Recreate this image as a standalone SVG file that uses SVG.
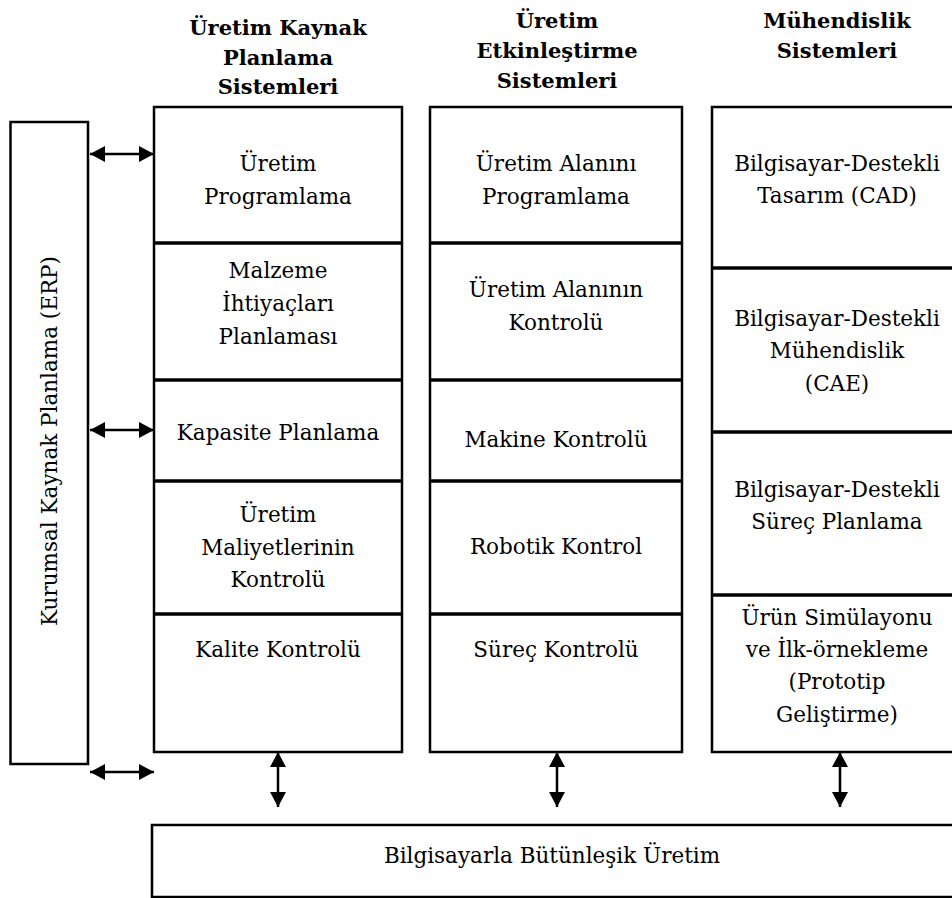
<svg xmlns="http://www.w3.org/2000/svg" width="952" height="898" viewBox="0 0 952 898">
  <defs>
    <marker id="head" markerUnits="userSpaceOnUse" markerWidth="16" markerHeight="16" refX="15" refY="8" orient="auto-start-reverse">
      <path d="M0,0 L15,8 L0,16 Z" fill="#000"/>
    </marker>
    <style>
      .box { fill: #fff; stroke: #000; stroke-width: 2.5; }
      .div { stroke: #000; stroke-width: 3.5; }
      text { font-family: 'DejaVu Serif', 'Liberation Serif', serif; font-size: 21.5px; fill: #000; text-anchor: middle; }
      .h { font-weight: bold; font-size: 21px; }
      .arrow { stroke: #000; stroke-width: 2.5; fill: none; marker-start: url(#head); marker-end: url(#head); }
    </style>
  </defs>
  <rect width="952" height="898" fill="#fff"/>

  <!-- column headings -->
  <g id="headings">
    <text class="h" x="278" y="35">Üretim Kaynak</text>
    <text class="h" x="278" y="65">Planlama</text>
    <text class="h" x="278" y="94">Sistemleri</text>
    <text class="h" x="557" y="28">Üretim</text>
    <text class="h" x="557" y="58">Etkinleştirme</text>
    <text class="h" x="557" y="88">Sistemleri</text>
    <text class="h" x="837" y="28">Mühendislik</text>
    <text class="h" x="837" y="58">Sistemleri</text>
  </g>

  <!-- ERP -->
  <g id="erp">
    <rect class="box" x="10.5" y="122" width="77.5" height="642"/>
    <text transform="translate(57,441) rotate(-90)">Kurumsal Kaynak Planlama (ERP)</text>
  </g>

  <!-- production resource planning column -->
  <g id="col-planning">
    <rect class="box" x="154" y="107" width="248" height="645"/>
    <line class="div" x1="154" y1="243" x2="402" y2="243"/>
    <line class="div" x1="154" y1="380" x2="402" y2="380"/>
    <line class="div" x1="154" y1="481" x2="402" y2="481"/>
    <line class="div" x1="154" y1="614" x2="402" y2="614"/>
  </g>
  <g id="uretim-programlama">
    <text x="278" y="171">Üretim</text>
    <text x="278" y="204">Programlama</text>
  </g>
  <g id="malzeme">
    <text x="278" y="278">Malzeme</text>
    <text x="278" y="311">İhtiyaçları</text>
    <text x="278" y="344">Planlaması</text>
  </g>
  <g id="kapasite">
    <text x="278" y="440">Kapasite Planlama</text>
  </g>
  <g id="maliyet">
    <text x="278" y="522">Üretim</text>
    <text x="278" y="555">Maliyetlerinin</text>
    <text x="278" y="587">Kontrolü</text>
  </g>
  <g id="kalite">
    <text x="278" y="657">Kalite Kontrolü</text>
  </g>

  <!-- manufacturing execution column -->
  <g id="col-execution">
    <rect class="box" x="430" y="107" width="252" height="645"/>
    <line class="div" x1="430" y1="243" x2="682" y2="243"/>
    <line class="div" x1="430" y1="380" x2="682" y2="380"/>
    <line class="div" x1="430" y1="481" x2="682" y2="481"/>
    <line class="div" x1="430" y1="614" x2="682" y2="614"/>
  </g>
  <g id="alan-programlama">
    <text x="556" y="171">Üretim Alanını</text>
    <text x="556" y="204">Programlama</text>
  </g>
  <g id="alan-kontrol">
    <text x="556" y="297">Üretim Alanının</text>
    <text x="556" y="330">Kontrolü</text>
  </g>
  <g id="makine">
    <text x="556" y="447">Makine Kontrolü</text>
  </g>
  <g id="robotik">
    <text x="556" y="554">Robotik Kontrol</text>
  </g>
  <g id="surec">
    <text x="556" y="657">Süreç Kontrolü</text>
  </g>

  <!-- engineering systems column -->
  <g id="col-engineering">
    <rect class="box" x="712" y="107" width="252" height="645"/>
    <line class="div" x1="712" y1="268" x2="964" y2="268"/>
    <line class="div" x1="712" y1="432" x2="964" y2="432"/>
    <line class="div" x1="712" y1="595" x2="964" y2="595"/>
  </g>
  <g id="cad">
    <text x="837" y="171">Bilgisayar-Destekli</text>
    <text x="837" y="203">Tasarım (CAD)</text>
  </g>
  <g id="cae">
    <text x="837" y="326">Bilgisayar-Destekli</text>
    <text x="837" y="358">Mühendislik</text>
    <text x="837" y="391">(CAE)</text>
  </g>
  <g id="capp">
    <text x="837" y="497">Bilgisayar-Destekli</text>
    <text x="837" y="529">Süreç Planlama</text>
  </g>
  <g id="prototip">
    <text x="837" y="625">Ürün Simülayonu</text>
    <text x="837" y="657">ve İlk-örnekleme</text>
    <text x="837" y="689">(Prototip</text>
    <text x="837" y="722">Geliştirme)</text>
  </g>

  <!-- computer integrated manufacturing -->
  <g id="cim">
    <rect class="box" x="152" y="825" width="812" height="72"/>
    <text x="552" y="863">Bilgisayarla Bütünleşik Üretim</text>
  </g>

  <!-- connectors -->
  <g id="connectors">
    <line class="arrow" x1="90" y1="154" x2="154" y2="154"/>
    <line class="arrow" x1="90" y1="430" x2="154" y2="430"/>
    <line class="arrow" x1="90" y1="772" x2="154" y2="772"/>
    <line class="arrow" x1="278" y1="752" x2="278" y2="807"/>
    <line class="arrow" x1="557" y1="752" x2="557" y2="807"/>
    <line class="arrow" x1="840" y1="752" x2="840" y2="807"/>
  </g>
</svg>
